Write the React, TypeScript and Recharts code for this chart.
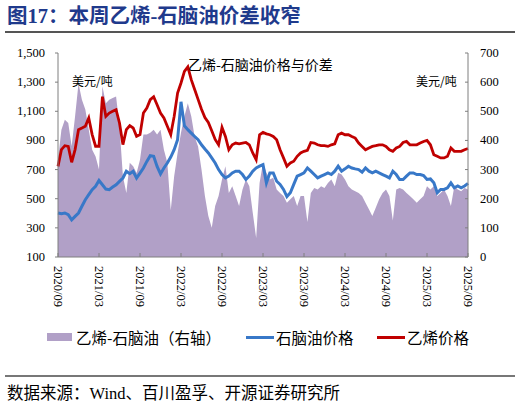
import React from 'react'
import { ComposedChart, Area, Line, XAxis, YAxis } from 'recharts'

// half-month observations, 2020/09 – 2025/09
const dates = [
  '2020/09/01', '2020/09/16', '2020/10/01', '2020/10/16', '2020/11/01', '2020/11/16', '2020/12/01', '2020/12/16',
  '2021/01/01', '2021/01/16', '2021/02/01', '2021/02/16', '2021/03/01', '2021/03/16', '2021/04/01', '2021/04/16',
  '2021/05/01', '2021/05/16', '2021/06/01', '2021/06/16', '2021/07/01', '2021/07/16', '2021/08/01', '2021/08/16',
  '2021/09/01', '2021/09/16', '2021/10/01', '2021/10/16', '2021/11/01', '2021/11/16', '2021/12/01', '2021/12/16',
  '2022/01/01', '2022/01/16', '2022/02/01', '2022/02/16', '2022/03/01', '2022/03/16', '2022/04/01', '2022/04/16',
  '2022/05/01', '2022/05/16', '2022/06/01', '2022/06/16', '2022/07/01', '2022/07/16', '2022/08/01', '2022/08/16',
  '2022/09/01', '2022/09/16', '2022/10/01', '2022/10/16', '2022/11/01', '2022/11/16', '2022/12/01', '2022/12/16',
  '2023/01/01', '2023/01/16', '2023/02/01', '2023/02/16', '2023/03/01', '2023/03/16', '2023/04/01', '2023/04/16',
  '2023/05/01', '2023/05/16', '2023/06/01', '2023/06/16', '2023/07/01', '2023/07/16', '2023/08/01', '2023/08/16',
  '2023/09/01', '2023/09/16', '2023/10/01', '2023/10/16', '2023/11/01', '2023/11/16', '2023/12/01', '2023/12/16',
  '2024/01/01', '2024/01/16', '2024/02/01', '2024/02/16', '2024/03/01', '2024/03/16', '2024/04/01', '2024/04/16',
  '2024/05/01', '2024/05/16', '2024/06/01', '2024/06/16', '2024/07/01', '2024/07/16', '2024/08/01', '2024/08/16',
  '2024/09/01', '2024/09/16', '2024/10/01', '2024/10/16', '2024/11/01', '2024/11/16', '2024/12/01', '2024/12/16',
  '2025/01/01', '2025/01/16', '2025/02/01', '2025/02/16', '2025/03/01', '2025/03/16', '2025/04/01', '2025/04/16',
  '2025/05/01', '2025/05/16', '2025/06/01', '2025/06/16', '2025/07/01', '2025/07/16', '2025/08/01', '2025/08/16',
  '2025/09/01',
]

// 乙烯价格 (left axis, USD/t)
const ethylene = [
  722, 837, 864, 859, 750, 837, 974, 985,
  997, 1054, 940, 860, 860, 1200, 1065, 1088, 1100, 1111, 1020, 871, 974, 1001, 985, 928,
  940, 1088, 1122, 1180, 1200, 1145, 1088, 1054, 997, 940, 1065, 1225,
  1294, 1374, 1405, 1317, 1250, 1182, 1114, 1057, 1023, 966, 907, 870,
  990, 927, 836, 870, 882, 877, 882, 886, 870, 814, 768, 939,
  955, 945, 939, 927, 905, 836, 780, 723, 745, 757, 791, 814,
  825, 832, 886, 882, 870, 864, 864, 859, 870, 877, 939, 950,
  939, 939, 927, 916, 882, 859, 836, 848, 859, 864, 870, 870,
  859, 836, 825, 848, 859, 886, 893, 870, 870, 870, 882, 893,
  900, 870, 802, 791, 780, 780, 791, 848, 825, 825, 825, 836,
  845,
]

// 石脑油价格 (left axis, USD/t)
const naphtha = [
  402, 397, 402, 390, 355, 379, 402, 448,
  493, 528, 562, 585, 625, 596, 566, 562, 580, 596, 619, 642, 688, 672, 688, 642,
  676, 711, 756, 795, 791, 722, 670, 711, 745, 786, 836, 905,
  1165, 1000, 974, 950, 927, 905, 870, 841, 814, 780, 745, 700,
  666, 643, 655, 677, 689, 689, 666, 632, 655, 689, 711, 723,
  734, 609, 677, 677, 620, 598, 564, 515, 541, 598, 655, 666,
  677, 711, 689, 666, 643, 655, 666, 677, 666, 689, 723, 689,
  705, 723, 711, 705, 700, 682, 711, 689, 677, 689, 677, 666,
  655, 643, 689, 666, 632, 632, 655, 677, 677, 666, 666, 659,
  632, 636, 609, 541, 564, 564, 575, 609, 575, 587, 575, 587,
  605,
]

// 乙烯-石脑油 spread (right axis, USD/t)
const spread = [
  334, 437, 471, 460, 380, 483, 595, 540,
  506, 437, 368, 345, 300, 586, 528, 540, 546, 551, 448, 277, 220, 323, 311, 288,
  334, 420, 420, 426, 437, 420, 437, 368, 323, 160, 277, 357,
  426, 483, 528, 483, 413, 379, 300, 209, 141, 100, 175, 209,
  266, 311, 220, 243, 209, 175, 232, 266, 243, 152, 65, 254,
  323, 289, 266, 272, 232, 220, 209, 186, 198, 209, 175, 209,
  209, 120, 220, 237, 232, 243, 237, 254, 266, 243, 289, 283,
  266, 243, 232, 226, 220, 209, 186, 164, 141, 169, 198, 220,
  232, 209, 125, 232, 237, 232, 220, 209, 198, 186, 198, 209,
  243, 232, 243, 209, 220, 232, 209, 175, 243, 232, 226, 237,
  232,
]

const xTicks = [
  '2020/09/01', '2021/03/01', '2021/09/01', '2022/03/01', '2022/09/01', '2023/03/01',
  '2023/09/01', '2024/03/01', '2024/09/01', '2025/03/01', '2025/09/01',
]
const leftTicks = [100, 300, 500, 700, 900, 1100, 1300, 1500]
const rightTicks = [0, 100, 200, 300, 400, 500, 600, 700]

const data = dates.map((d, i) => ({
  date: d,
  ethylene: ethylene[i],
  naphtha: naphtha[i],
  spread: spread[i],
}))

const PURPLE = '#B1A0C7'
const BLUE = '#3878C8'
const RED = '#C00000'
const AXIS = '#7f7f7f'
const NUM_FONT = '"Liberation Serif", "Noto Sans CJK SC", serif'
const CJK_FONT = '"Noto Sans CJK SC", sans-serif'

const XTick = (props: any) => {
  const { x, y, payload } = props
  return (
    <g>
      <line x1={x} x2={x} y1={y} y2={y - 4} stroke={AXIS} />
      <text
        transform={`translate(${x},${y + 9}) rotate(90)`}
        textAnchor="start"
        dominantBaseline="central"
        fontSize={12.5}
        fontFamily={NUM_FONT}
        fill="#000"
      >
        {String(payload.value).slice(0, 7)}
      </text>
    </g>
  )
}

const LeftTick = (props: any) => {
  const { x, y, payload } = props
  return (
    <g>
      <line x1={x - 3} x2={x} y1={y} y2={y} stroke={AXIS} />
      <text x={x - 13} y={y} textAnchor="end" dominantBaseline="central" fontSize={12.5} fontFamily={NUM_FONT} fill="#000">
        {Number(payload.value).toLocaleString('en-US')}
      </text>
    </g>
  )
}

const RightTick = (props: any) => {
  const { x, y, payload } = props
  return (
    <g>
      <line x1={x - 3} x2={x} y1={y} y2={y} stroke={AXIS} />
      <text x={x + 12} y={y} textAnchor="start" dominantBaseline="central" fontSize={12.5} fontFamily={NUM_FONT} fill="#000">
        {payload.value}
      </text>
    </g>
  )
}

const abs = (style: React.CSSProperties): React.CSSProperties => ({ position: 'absolute', whiteSpace: 'nowrap', ...style })

export default function App() {
  return (
    <div style={{ position: 'absolute', left: 0, top: 0, width: 521, height: 405, background: '#fff', overflow: 'hidden' }}>
      <div style={abs({ left: 7, top: 5, height: 22, lineHeight: '22px', fontSize: 20.5, fontWeight: 700, color: '#1F3A8C', fontFamily: NUM_FONT })}>
        图17：本周乙烯-石脑油价差收窄
      </div>
      <div style={abs({ left: 5, top: 31, width: 510, height: 1.5, background: '#555' })} />

      <div style={abs({ left: 0, top: 0 })}>
        <ComposedChart width={521} height={320} data={data} margin={{ top: 53, right: 0, bottom: 0, left: 0 }}>
          <XAxis
            dataKey="date"
            scale="point"
            padding={{ left: 0, right: 0 }}
            ticks={xTicks}
            interval={0}
            tick={<XTick />}
            tickLine={false}
            tickSize={0}
            tickMargin={0}
            height={63}
            stroke={AXIS}
          />
          <YAxis
            yAxisId="left"
            domain={[100, 1500]}
            ticks={leftTicks}
            tick={<LeftTick />}
            tickLine={false}
            tickSize={0}
            tickMargin={0}
            width={58}
            stroke={AXIS}
            allowDataOverflow
          />
          <YAxis
            yAxisId="right"
            orientation="right"
            domain={[0, 700]}
            ticks={rightTicks}
            tick={<RightTick />}
            tickLine={false}
            tickSize={0}
            tickMargin={0}
            width={53}
            stroke={AXIS}
          />
          <Area
            yAxisId="right"
            type="linear"
            dataKey="spread"
            fill={PURPLE}
            fillOpacity={1}
            stroke="none"
            isAnimationActive={false}
          />
          <Line yAxisId="left" type="linear" dataKey="naphtha" stroke={BLUE} strokeWidth={3} dot={false} isAnimationActive={false} />
          <Line yAxisId="left" type="linear" dataKey="ethylene" stroke={RED} strokeWidth={2.8} dot={false} isAnimationActive={false} />
        </ComposedChart>
      </div>

      <div style={abs({ left: 188, top: 55, lineHeight: '18px', fontSize: 14, fontFamily: CJK_FONT, color: '#000' })}>
        乙烯-石脑油价格与价差
      </div>
      <div style={abs({ left: 72, top: 73, lineHeight: '16px', fontSize: 12, fontFamily: CJK_FONT, color: '#000' })}>
        美元/吨
      </div>
      <div style={abs({ left: 416, top: 73, lineHeight: '16px', fontSize: 12, fontFamily: CJK_FONT, color: '#000' })}>
        美元/吨
      </div>

      <div style={abs({ left: 47, top: 333, width: 25, height: 8, background: PURPLE })} />
      <div style={abs({ left: 76, top: 328, lineHeight: '19px', fontSize: 15.5, fontFamily: CJK_FONT, color: '#000' })}>
        乙烯-石脑油（右轴）
      </div>
      <div style={abs({ left: 246, top: 336, width: 28, height: 3, background: BLUE })} />
      <div style={abs({ left: 276, top: 328, lineHeight: '19px', fontSize: 15.5, fontFamily: CJK_FONT, color: '#000' })}>
        石脑油价格
      </div>
      <div style={abs({ left: 377, top: 336, width: 28, height: 3, background: RED })} />
      <div style={abs({ left: 407, top: 328, lineHeight: '19px', fontSize: 15.5, fontFamily: CJK_FONT, color: '#000' })}>
        乙烯价格
      </div>

      <div style={abs({ left: 5, top: 375, width: 510, height: 1.5, background: '#777' })} />
      <div style={abs({ left: 7, top: 384, lineHeight: '20px', fontSize: 16.5, fontFamily: NUM_FONT, color: '#000' })}>
        数据来源：Wind、百川盈孚、开源证券研究所
      </div>
    </div>
  )
}
